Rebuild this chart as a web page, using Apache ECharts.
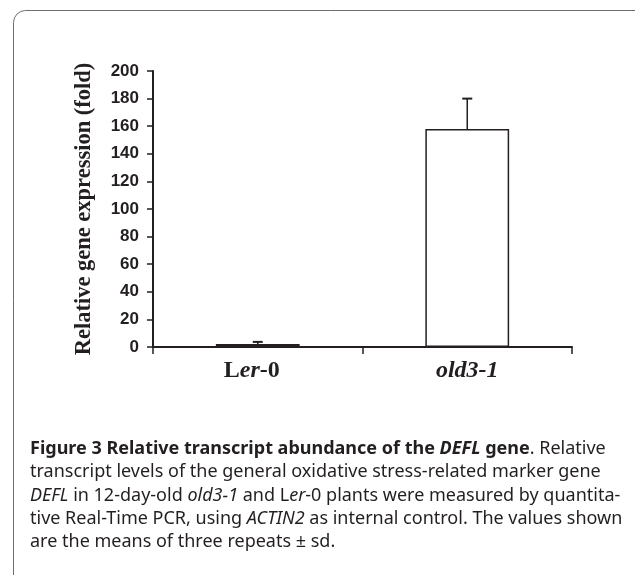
<!DOCTYPE html>
<html>
<head>
<meta charset="utf-8">
<script src="https://cdn.jsdelivr.net/npm/echarts@6/dist/echarts.min.js"></script>
<style>
  html, body { margin: 0; padding: 0; background: #fff; }
  #chart { width: 635px; height: 575px; }
</style>
</head>
<body>
<div id="chart"></div>
<script>
// data
var categories = ["Ler-0", "old3-1"];
var means = [2.2, 158];
var sds = [1.5, 22];
var yTicks = [0, 20, 40, 60, 80, 100, 120, 140, 160, 180, 200];

var ink = "#231f20";
var chart = echarts.init(document.getElementById("chart"));

// caption under the plot
var capFont = "Noto Sans";
var capSize = 18;
var capRich = {
  b: { fontFamily: capFont, fontSize: capSize, lineHeight: 23, fontWeight: "bold", color: ink },
  bi: { fontFamily: capFont, fontSize: capSize, lineHeight: 23, fontWeight: "bold", fontStyle: "italic", color: ink },
  r: { fontFamily: capFont, fontSize: capSize, lineHeight: 23, color: ink },
  i: { fontFamily: capFont, fontSize: capSize, lineHeight: 23, fontStyle: "italic", color: ink }
};
var capLines = [
  "{b|Figure 3 Relative transcript abundance of the }{bi|DEFL}{b| gene}{r|. Relative}",
  "{r|transcript levels of the general oxidative stress-related marker gene}",
  "{i|DEFL}{r| in 12-day-old }{i|old3-1}{r| and L}{i|er}{r|-0 plants were measured by quantita-}",
  "{r|tive Real-Time PCR, using }{i|ACTIN2}{r| as internal control. The values shown}",
  "{r|are the means of three repeats \u00b1 sd.}"
];
var graphics = [{
  type: "rect",
  shape: { x: 13.5, y: 10.5, width: 640, height: 600, r: 12 },
  style: { fill: "none", stroke: "#6d6e71", lineWidth: 1 }
}];
capLines.forEach(function (t, i) {
  graphics.push({
    type: "text",
    left: 30,
    top: 440 + i * 23.3,
    style: { text: t, rich: capRich, fill: ink }
  });
});

chart.setOption({
  animation: false,
  grid: { left: 153, right: 63, top: 71, bottom: 228 },
  graphic: graphics,
  xAxis: {
    type: "category",
    data: categories,
    boundaryGap: true,
    axisLine: { lineStyle: { color: ink, width: 2 } },
    axisTick: { show: true, length: 7, lineStyle: { color: ink, width: 1.5 } },
    axisLabel: {
      margin: 12,
      formatter: function (v) {
        if (v === "Ler-0") return "{n|L}{i|er}{n|-0}{pad|}";
        return "{i|" + v + "}";
      },
      rich: {
        n: { fontFamily: "Liberation Serif", fontSize: 24, fontWeight: "bold", color: ink },
        i: { fontFamily: "Liberation Serif", fontSize: 24, fontWeight: "bold", fontStyle: "italic", color: ink },
        pad: { width: 12 }
      }
    }
  },
  yAxis: {
    type: "value",
    min: yTicks[0],
    max: yTicks[yTicks.length - 1],
    interval: yTicks[1] - yTicks[0],
    name: "Relative gene expression (fold)",
    nameLocation: "middle",
    nameGap: 57,
    nameTextStyle: { fontFamily: "Liberation Serif", fontSize: 22.5, fontWeight: "bold", color: ink },
    axisLine: { show: true, lineStyle: { color: ink, width: 2 } },
    axisTick: { show: true, length: 6, lineStyle: { color: ink, width: 1.5 } },
    splitLine: { show: false },
    axisLabel: {
      margin: 14,
      fontFamily: "Liberation Sans",
      fontSize: 17,
      fontWeight: "bold",
      color: ink
    }
  },
  series: [
    {
      type: "bar",
      data: means,
      barWidth: "40%",
      itemStyle: { color: "#fff", borderColor: ink, borderWidth: 1.5 }
    },
    {
      type: "custom",
      data: means.map(function (m, i) { return [i, m, m + sds[i]]; }),
      renderItem: function (params, api) {
        var base = api.coord([api.value(0), api.value(1)]);
        var top = api.coord([api.value(0), api.value(2)]);
        var half = 5;
        return {
          type: "group",
          children: [
            { type: "line", shape: { x1: base[0], y1: base[1], x2: top[0], y2: top[1] }, style: { stroke: ink, lineWidth: 1.5 } },
            { type: "line", shape: { x1: top[0] - half, y1: top[1], x2: top[0] + half, y2: top[1] }, style: { stroke: ink, lineWidth: 2 } }
          ]
        };
      },
      z: 3
    }
  ]
});
</script>
</body>
</html>
